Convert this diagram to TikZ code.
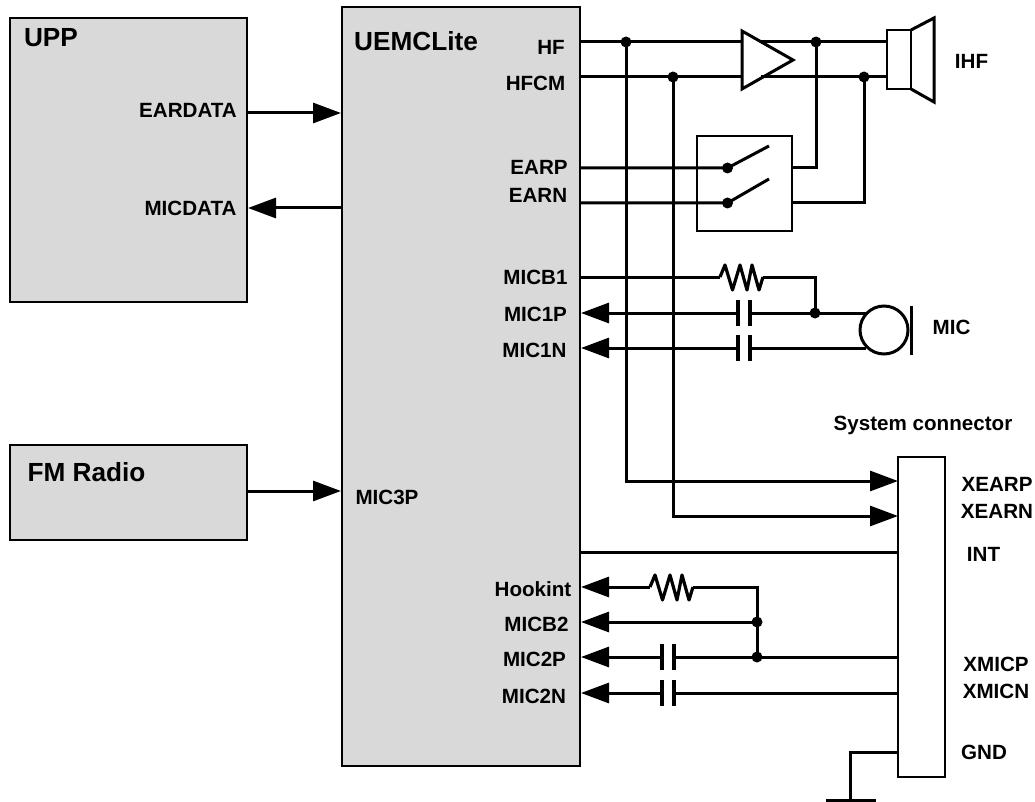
\documentclass[tikz,border=0pt]{standalone}
\usepackage{fontspec}
\setmainfont{Liberation Sans}
\usetikzlibrary{arrows.meta}
\tikzset{
  x=1pt,y=-1pt,
  wire/.style={line width=3pt,draw=black,line cap=butt,line join=miter},
  thinwire/.style={wire,line width=3.2pt},
  arrowwire/.style={wire,-{Triangle[length=28pt,width=20pt]}},
  backwire/.style={wire,{Triangle[length=28pt,width=20pt]}-},
  block/.style={draw=black,line width=2.7pt,fill=black!15,inner sep=0,outer sep=0},
  plainbox/.style={draw=black,line width=2.8pt,fill=white,inner sep=0,outer sep=0},
  junction/.style={circle,fill=black,inner sep=0,minimum size=11pt},
  lab/.style={inner sep=0,text height=14pt,text depth=0pt,font=\bfseries\fontsize{20.6}{20.6}\selectfont,text=black},
  bigl/.style={inner sep=0,text height=18pt,text depth=0pt,font=\bfseries\fontsize{26.2}{26.2}\selectfont,text=black},
  resistor/.pic={\draw[thinwire,line join=round] (0,0)--(5,-12)--(12.5,13)--(20,-12)--(27,13)--(32,-12)--(39,13)--(43,0);},
  capacitor/.pic={\draw[thinwire] (-6,-13)--(-6,13) (6,-13)--(6,13);},
}
\begin{document}
\begin{tikzpicture}
\useasboundingbox (0,0) rectangle (1035,802);
% blocks
\node[block,minimum width=237pt,minimum height=284pt] (upp) at (128.5,160) {};
\node[block,minimum width=237pt,minimum height=95pt] (fm) at (128.5,492.5) {};
\node[block,minimum width=238pt,minimum height=759pt] (uemc) at (461,386.5) {};
\node[plainbox,minimum width=47pt,minimum height=320pt] (conn) at (921.5,617) {};
% pins
\coordinate (hf) at (580,42);
\coordinate (hfcm) at (580,77);
\coordinate (earp) at (580,168);
\coordinate (earn) at (580,203);
\coordinate (micb) at (580,277);
\coordinate (mp) at (581,313);
\coordinate (mn) at (581,348);
\coordinate (hook) at (581,587);
\coordinate (mb2) at (581,622);
\coordinate (m2p) at (581,657);
\coordinate (m2n) at (581,693);
\coordinate (intl) at (580,552);
% junctions
\node[junction] (j1) at (626,42) {};
\node[junction] (j2) at (673,77) {};
\node[junction] (j3) at (816,42) {};
\node[junction] (j4) at (864,77) {};
\node[junction] (j5) at (815,313) {};
\node[junction] (j6) at (757,622) {};
\node[junction] (j7) at (757,657) {};
% digital arrows
\coordinate (ed1) at (247,113); \coordinate (ed2) at (341,113);
\coordinate (md1) at (342,208); \coordinate (md2) at (248,208);
\coordinate (fm1) at (247,491); \coordinate (fm2) at (341,491);
\draw[arrowwire] (ed1)--(ed2);
\draw[arrowwire] (md1)--(md2);
\draw[arrowwire] (fm1)--(fm2);
% speaker and HF nets
\coordinate (spk1) at (887,42); \coordinate (spk2) at (887,77);
\draw[wire] (hf)--(spk1);
\draw[wire] (hfcm)--(spk2);
\coordinate (xp) at (898,481); \coordinate (xn) at (898,516);
\draw[arrowwire] (j1.center)|-(xp);
\draw[arrowwire] (j2.center)|-(xn);
% amplifier
\coordinate (a1) at (742,31); \coordinate (a2) at (793,60); \coordinate (a3) at (742,89);
\coordinate (a4) at (761,42); \coordinate (a5) at (761,77);
\draw[wire,fill=white] (a1)--(a2)--(a3)--cycle;
\draw[wire] (a4)--(j3.center) (a5)--(j4.center);
% speaker
\node[plainbox,minimum width=24pt,minimum height=59pt] (spk) at (899,59.5) {};
\coordinate (h1) at (934,18); \coordinate (h2) at (934,102);
\draw[wire] (spk.north east)--(h1)--(h2)--(spk.south east);
% switch
\node[plainbox,minimum width=95pt,minimum height=95pt] (sw) at (744.5,183.5) {};
\node[junction] (s1) at (727.5,168) {};
\node[junction] (s2) at (727.5,203) {};
\coordinate (b1) at (769,146); \coordinate (b2) at (769,179);
\draw[wire] (earp)--(s1.center)--(b1);
\draw[wire] (earn)--(s2.center)--(b2);
\coordinate (sr1) at (792,168); \coordinate (sr2) at (792,203);
\draw[wire] (sr1)-|(j3.center);
\draw[wire] (sr2)-|(j4.center);
% MIC
\coordinate (r1l) at (720,277); \coordinate (r1r) at (763,277);
\coordinate (c1l) at (738,313); \coordinate (c1r) at (750,313);
\coordinate (c2l) at (738,348); \coordinate (c2r) at (750,348);
\draw[wire] (micb)--(r1l);
\pic at (r1l) {resistor};
\draw[wire] (r1r)-|(j5.center);
\draw[backwire] (mp)--(c1l);
\draw[backwire] (mn)--(c2l);
\pic at (744,313) {capacitor};
\pic at (744,348) {capacitor};
\coordinate (micm1) at (866,313); \coordinate (micm2) at (866,348);
\draw[wire] (c1r)--(micm1);
\draw[wire] (c2r)--(micm2);
\node[circle,draw=black,line width=3pt,fill=white,minimum size=48pt,inner sep=0] (mic) at (884,330) {};
\coordinate (bar1) at (911,306); \coordinate (bar2) at (911,355);
\draw[wire] (bar1)--(bar2);
% INT, lower nets
\coordinate (intr) at (898,552);
\draw[wire] (intl)--(intr);
\coordinate (r2l) at (650,587); \coordinate (r2r) at (693,587);
\draw[backwire] (hook)--(r2l);
\pic at (r2l) {resistor};
\draw[wire] (r2r)-|(j7.center);
\draw[backwire] (mb2)--(j6.center);
\coordinate (c3l) at (662,657); \coordinate (c3r) at (674,657);
\coordinate (c4l) at (662,693); \coordinate (c4r) at (674,693);
\draw[backwire] (m2p)--(c3l);
\draw[backwire] (m2n)--(c4l);
\pic at (668,657) {capacitor};
\pic at (668,693) {capacitor};
\coordinate (x3) at (898,657); \coordinate (x4) at (898,693);
\draw[wire] (c3r)--(x3);
\draw[wire] (c4r)--(x4);
% ground
\coordinate (g1) at (898,752); \coordinate (g2) at (850,800);
\coordinate (g3) at (826,800); \coordinate (g4) at (876,800);
\draw[wire] (g1)-|(g2);
\draw[wire] (g3)--(g4);
% labels
\node[bigl] (tUPP) at (51,38) {UPP};
\node[bigl] (tUEMC) at (416,42) {UEMCLite};
\node[bigl] (tFM) at (86.5,472) {FM Radio};
\node[lab] (tED) at (188,111) {EARDATA};
\node[lab] (tMD) at (190.5,209) {MICDATA};
\node[lab] (tM3) at (387,497) {MIC3P};
\node[lab] (tHF) at (551,48) {HF};
\node[lab] (tHC) at (535.5,84) {HFCM};
\node[lab] (tEP) at (539,168) {EARP};
\node[lab] (tEN) at (538,196) {EARN};
\node[lab] (tB1) at (535.5,277) {MICB1};
\node[lab] (t1P) at (535.5,314) {MIC1P};
\node[lab] (t1N) at (534.5,350) {MIC1N};
\node[lab] (tHK) at (533,589) {Hookint};
\node[lab] (tB2) at (536.5,624) {MICB2};
\node[lab] (t2P) at (534.5,659) {MIC2P};
\node[lab] (t2N) at (534,696) {MIC2N};
\node[lab] (tIHF) at (971.5,62) {IHF};
\node[lab] (tMIC) at (951.5,327) {MIC};
\node[lab] (tSC) at (923,423) {System connector};
\node[lab] (tXP) at (997,484) {XEARP};
\node[lab] (tXN) at (997,511) {XEARN};
\node[lab] (tINT) at (983.5,554) {INT};
\node[lab] (tXMP) at (996,664) {XMICP};
\node[lab] (tXMN) at (996,691) {XMICN};
\node[lab] (tGND) at (984,752) {GND};
\end{tikzpicture}
\end{document}
